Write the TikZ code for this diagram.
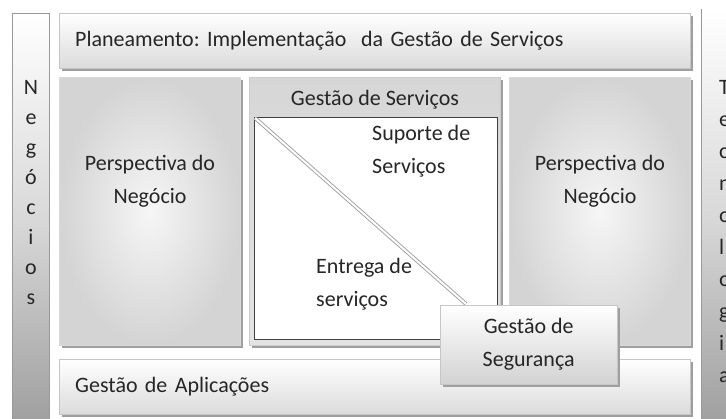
\documentclass[tikz,border=0pt]{standalone}
\usepackage{fontspec}
\setmainfont{Carlito}
\usetikzlibrary{shadows}
\frenchspacing
\begin{document}
\begin{tikzpicture}[x=1pt,y=-1pt,
  every node/.style={font=\fontsize{22}{33}\selectfont, text=black!85},
  shad/.style={drop shadow={shadow xshift=2.5pt,shadow yshift=-2.5pt,fill=gray!75,opacity=1}},
  barbox/.style={draw=gray!45, top color=white, bottom color=gray!28, shad, anchor=north west, inner sep=0pt},
  persbox/.style={draw=gray!30, shading=radial, inner color=gray!7, outer color=gray!34, shad, anchor=north west, minimum width=181pt, minimum height=268pt, inner sep=0pt},
  vbar/.style={draw=gray!80, top color=white, bottom color=gray!75, middle color=gray!30},
  txt/.style={inner sep=0pt},
  letter/.style={inner sep=0pt, text height=1.5ex, text depth=.25ex}
]
\useasboundingbox (0,0) rectangle (726,418);
\clip (0,0) rectangle (726,418);
\fill[white] (0,0) rectangle (726,418);

% vertical side bars
\path[vbar] (12,13) rectangle (49,422);
\path[vbar] (701,9) rectangle (740,422);
\fill[white] (702,8) rectangle (740,13);
\foreach \l [count=\i] in {N,e,g,ó,c,i,o,s}
  \node[letter] (neg\i) at (31,{62+30*\i}) {\l};
\foreach \l [count=\i] in {T,e,c,n,o,l,o,g,i,a}
  \node[letter, anchor=west] (tec\i) at (719,{60+32*\i}) {\l};

% top bar
\node[barbox, minimum width=631pt, minimum height=55pt, text width=599pt, inner xsep=16pt, align=left] (plan) at (59,13) {Planeamento: Implementação\ \ da Gestão de Serviços};

% perspective boxes
\node[persbox] (persL) at (59,77) {};
\node[persbox] (persR) at (509,77) {};
\node[txt, align=center] (persLt) at (150,181) {Perspectiva do\\Negócio};
\node[txt, align=center] (persRt) at (600,181) {Perspectiva do\\Negócio};

% service management
\node[draw=gray!40, top color=gray!32, bottom color=gray!22, shad, anchor=north west, minimum width=251pt, minimum height=268pt, inner sep=0pt] (gs) at (249,77) {};
\node[txt] (gst) at (375,100) {Gestão de Serviços};
\node[draw=black!75, line width=1.2pt, fill=white, anchor=north west, minimum width=243pt, minimum height=222pt, inner sep=0pt] (inner) at (254,117) {};
\coordinate (dg) at (466,304);
\draw[draw=gray!75, line width=0.9pt, double=white, double distance=2pt] ([shift={(1pt,-1pt)}]inner.north west) -- (dg);
\node[txt, align=left, anchor=west] (sup) at (372,151) {Suporte de\\Serviços};
\node[txt, align=left, anchor=west] (ent) at (316,284) {Entrega de\\serviços};

% applications bar
\node[barbox, minimum width=631pt, minimum height=55pt, text width=599pt, inner xsep=16pt, align=left] (apps) at (59,359) {Gestão de Aplicações};

% security box
\node[barbox, bottom color=gray!35, minimum width=177pt, minimum height=79pt, align=center] (seg) at (440,305) {Gestão de\\Segurança};
\end{tikzpicture}
\end{document}
